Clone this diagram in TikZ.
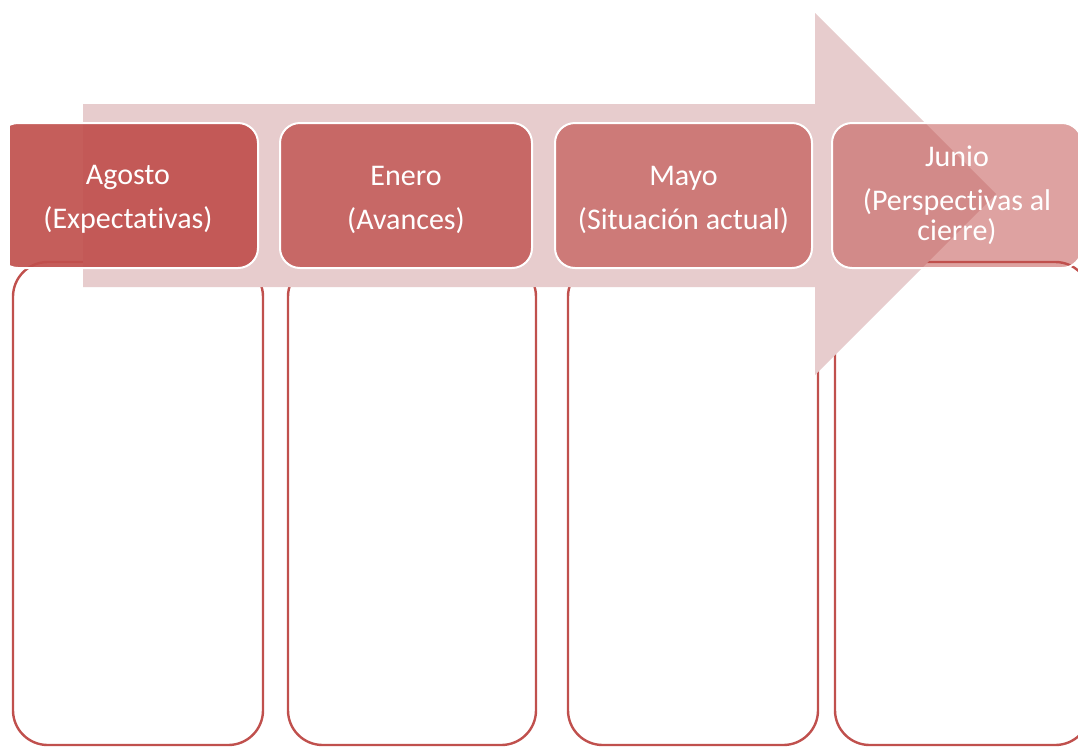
\documentclass[tikz,border=0pt]{standalone}
\usepackage{fontspec}
\setmainfont[Ligatures=NoCommon]{Carlito}
\definecolor{accred}{RGB}{192,80,77}
\definecolor{arrowpink}{RGB}{231,204,205}
\tikzset{
  lowerbox/.style={draw=accred, line width=1.8pt, fill=white, rounded corners=26pt,
    inner sep=0pt, outer sep=0pt, minimum height=362.25pt},
  headbox/.style={fill=accred, draw=white, line width=1.5pt, rounded corners=15pt,
    inner sep=0pt, outer sep=0pt, minimum height=108.75pt, text=white, align=center,
    font=\fontsize{22.5}{22.5}\selectfont},
}
\newcommand{\toppad}{\rule{0pt}{20.5pt}}
\begin{document}
\begin{tikzpicture}[x=0.75pt,y=-0.75pt]
\useasboundingbox (0,0) rectangle (1078,747);
\clip (0,0) rectangle (1078,747);
% lower boxes
\node[lowerbox, minimum width=187.5pt] (b1) at (138,503.5) {};
\node[lowerbox, minimum width=186pt] (b2) at (412,503.5) {};
\node[lowerbox, minimum width=187.5pt] (b3) at (693,503.5) {};
\node[lowerbox, minimum width=191.25pt] (b4) at (962.5,503.5) {};
% arrow
\fill[arrowpink] (83,104) -- (815,104) -- (815,13) -- (996,194) -- (815,375) -- (815,287) -- (83,287) -- cycle;
% headers
\begin{scope}
\clip (10,0) rectangle (1078,747);
\node[headbox, fill opacity=0.92, text opacity=1, minimum width=195pt] (h1) at (128,195.5) {\toppad Agosto\\[10.5pt](Expectativas)};
\end{scope}
\node[headbox, fill opacity=0.8, text opacity=1, minimum width=189pt] (h2) at (406,195.5) {\toppad Enero\\[10.5pt](Avances)};
\node[headbox, fill opacity=0.66, text opacity=1, minimum width=192.75pt] (h3) at (683.5,195.5) {\toppad Mayo\\[10.5pt](Situación actual)};
\node[headbox, fill opacity=0.53, text opacity=1, minimum width=187.5pt] (h4) at (957,195.5) {Junio\\[10.5pt](Perspectivas al\\cierre)};
\end{tikzpicture}
\end{document}
